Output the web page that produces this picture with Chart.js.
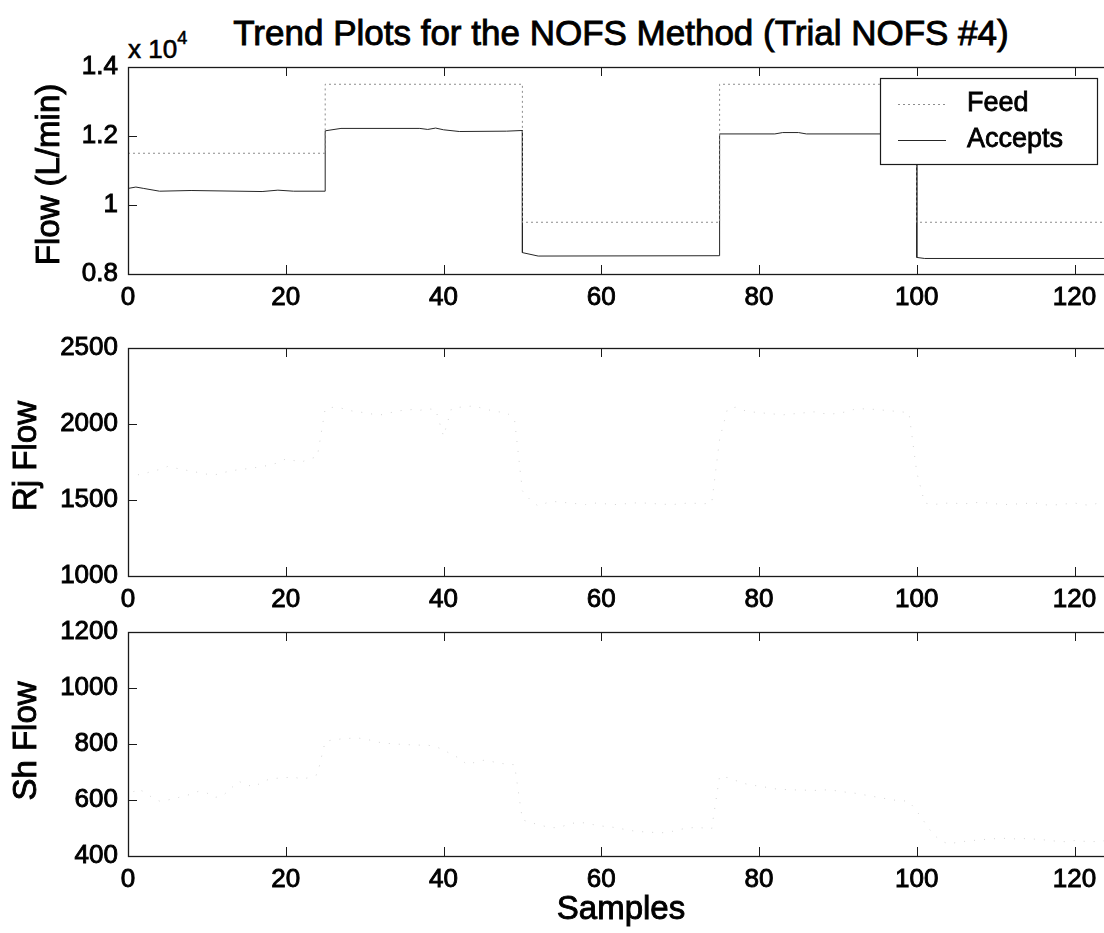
<!DOCTYPE html>
<html>
<head>
<meta charset="utf-8">
<script src="https://cdn.jsdelivr.net/npm/chart.js@4/dist/chart.umd.min.js"></script>
<style>
  html, body { margin: 0; padding: 0; background: #fff; overflow: hidden; }
  #wrap { position: relative; width: 1104px; height: 933px; overflow: hidden; background: #fff; }
  #wrap canvas { position: absolute; left: 0; }
  .txt { position: absolute; font-family: "Liberation Sans", Arial, sans-serif; color: #000; white-space: nowrap; -webkit-text-stroke: 0.9px #000; }
  #title { top: 13px; left: 621px; transform: translateX(-50%); font-size: 35px; line-height: 40px; }
  #mult { top: 27px; left: 128px; font-size: 26px; line-height: 30px; -webkit-text-stroke: 0.6px #000; }
  #mult sup { font-size: 18px; position: relative; top: -4px; }
</style>
</head>
<body>
<div id="wrap">
  <div class="txt" id="title">Trend Plots for the NOFS Method (Trial NOFS #4)</div>
  <div class="txt" id="mult">x 10<sup>4</sup></div>
  <canvas id="flowChart" width="1125" height="320" style="top:0px"></canvas>
  <canvas id="rjChart" width="1125" height="302" style="top:320px"></canvas>
  <canvas id="shChart" width="1125" height="333" style="top:600px"></canvas>
</div>
<script>
// ---- sample axis ----
const sampleTicks = [0, 20, 40, 60, 80, 100, 120];
const sampleMax = 125;

// ---- top panel: feed set-point and accepts flow (L/min) ----
const feedSamples = [0, 25, 25, 50, 50, 75, 75, 100, 100, 125];
const feedFlow    = [11500, 11500, 13500, 13500, 9500, 9500, 13500, 13500, 9500, 9500];

const acceptsSamples = [0, 1, 2, 4, 8, 17, 19, 21, 25, 25, 27, 37, 38, 39, 40, 42, 48, 50, 50, 52, 75, 75, 82, 83, 85, 86, 100, 100, 101, 125];
const acceptsFlow    = [10480, 10520, 10480, 10400, 10420, 10390, 10430, 10400, 10400, 12150, 12220, 12220, 12190, 12230, 12180, 12130, 12140, 12160, 8620, 8520, 8530, 12060, 12060, 12100, 12100, 12060, 12060, 8480, 8450, 8450];
const flowTicks = [8000, 10000, 12000, 14000];

// ---- middle panel: reject flow, one value per sample (0..125) ----
const rjFlow = [
  1660, 1665, 1670, 1690, 1700, 1720, 1710, 1700, 1690, 1680, 1670, 1665, 1680, 1690, 1700, 1705, 1712, 1720, 1730, 1745, 1770, 1760, 1750, 1770, 1785,
  2100, 2110, 2105, 2090, 2080, 2075, 2065, 2060, 2070, 2085, 2090, 2095, 2090, 2100, 2095, 1920, 2100, 2110, 2115, 2120, 2100, 2090, 2080, 2075, 2030,
  1560, 1500, 1460, 1480, 1490, 1485, 1480, 1475, 1470, 1480, 1478, 1472, 1470, 1475, 1480, 1482, 1478, 1475, 1472, 1470, 1475, 1480, 1478, 1475, 1480,
  1900, 2100, 2110, 2090, 2080, 2075, 2070, 2065, 2060, 2065, 2070, 2075, 2080, 2070, 2065, 2070, 2080, 2095, 2100, 2098, 2095, 2090, 2085, 2080, 2075,
  1680, 1480, 1470, 1475, 1480, 1478, 1475, 1480, 1485, 1480, 1475, 1470, 1472, 1475, 1478, 1480, 1470, 1465, 1470, 1475, 1480, 1470, 1465, 1480, 1475, 1470
];
const rjTicks = [1000, 1500, 2000, 2500];

// ---- bottom panel: shive flow, one value per sample (0..125) ----
const shFlow = [
  600, 641, 630, 610, 596, 600, 605, 615, 620, 632, 625, 609, 615, 640, 667, 655, 646, 665, 675, 678, 680, 682, 675, 680, 691,
  809, 815, 818, 820, 822, 818, 812, 805, 802, 800, 798, 797, 796, 796, 790, 780, 762, 750, 726, 735, 742, 738, 732, 728, 726,
  529, 520, 512, 505, 501, 505, 515, 520, 518, 512, 507, 505, 500, 495, 490, 487, 485, 484, 483, 488, 495, 500, 502, 500, 498,
  685, 680, 670, 660, 653, 650, 645, 640, 638, 636, 636, 635, 634, 636, 636, 632, 628, 625, 620, 615, 610, 605, 600, 598, 595,
  560, 520, 480, 455, 443, 448, 452, 455, 458, 460, 462, 463, 462, 460, 463, 460, 458, 455, 452, 451, 455, 453, 451, 452, 455, 452
];
const shTicks = [400, 600, 800, 1000, 1200];

// ---- shared styling ----
const FONT = '"Liberation Sans", Arial, sans-serif';
const TICK_FONT = { family: FONT, size: 26 };
const TICK_LEN = 9;

const pairs = (xs, ys) => ys.map((y, i) => ({ x: xs[i], y }));
const perSample = ys => ys.map((y, i) => ({ x: i, y }));

// Box frame with inward tick marks on all four sides
const boxFrame = {
  id: 'boxFrame',
  afterDatasetsDraw(chart) {
    const { ctx, chartArea: a, scales } = chart;
    ctx.save();
    ctx.strokeStyle = '#1a1a1a';
    ctx.lineWidth = 1.3;
    ctx.strokeRect(a.left + 0.5, a.top + 0.5, a.right - a.left, a.bottom - a.top);
    ctx.lineWidth = 1;
    ctx.beginPath();
    scales.x.ticks.forEach(t => {
      const px = Math.round(scales.x.getPixelForValue(t.value)) + 0.5;
      ctx.moveTo(px, a.bottom); ctx.lineTo(px, a.bottom - TICK_LEN);
      ctx.moveTo(px, a.top); ctx.lineTo(px, a.top + TICK_LEN);
    });
    scales.y.ticks.forEach(t => {
      const py = Math.round(scales.y.getPixelForValue(t.value)) + 0.5;
      ctx.moveTo(a.left, py); ctx.lineTo(a.left + TICK_LEN, py);
      ctx.moveTo(a.right, py); ctx.lineTo(a.right - TICK_LEN, py);
    });
    ctx.stroke();
    ctx.restore();
  }
};

// Axis labels, drawn with a slight outline for a heavier print look
const axisLabels = {
  id: 'axisLabels',
  afterDraw(chart, args, opts) {
    const { ctx, chartArea: a } = chart;
    ctx.save();
    ctx.fillStyle = '#000';
    ctx.strokeStyle = '#000';
    ctx.lineWidth = 0.9;
    ctx.textAlign = 'center';
    ctx.textBaseline = 'middle';
    ctx.font = opts.size + 'px ' + FONT;
    if (opts.y) {
      ctx.save();
      ctx.translate(opts.yX, (a.top + a.bottom) / 2 + (opts.yShift || 0));
      ctx.rotate(-Math.PI / 2);
      ctx.strokeText(opts.y, 0, 0);
      ctx.fillText(opts.y, 0, 0);
      ctx.restore();
    }
    if (opts.x) {
      const cx = (a.left + a.right) / 2;
      ctx.strokeText(opts.x, cx, opts.xY);
      ctx.fillText(opts.x, cx, opts.xY);
    }
    ctx.restore();
  }
};

// Boxed legend in the upper right of the top panel
const boxLegend = {
  id: 'boxLegend',
  afterDraw(chart, args, opts) {
    if (!opts.show) return;
    const { ctx } = chart;
    const x0 = opts.left, y0 = opts.top, w = opts.width, h = opts.height;
    ctx.save();
    ctx.fillStyle = '#fff';
    ctx.fillRect(x0, y0, w, h);
    ctx.strokeStyle = '#1a1a1a';
    ctx.lineWidth = 1.2;
    ctx.strokeRect(x0 + 0.5, y0 + 0.5, w, h);
    ctx.font = '27px ' + FONT;
    ctx.textBaseline = 'middle';
    chart.data.datasets.forEach((ds, i) => {
      const cy = y0 + opts.rowStart + i * opts.rowGap;
      ctx.strokeStyle = ds.borderColor;
      ctx.lineWidth = ds.borderWidth;
      ctx.setLineDash(ds.borderDash || []);
      ctx.beginPath();
      ctx.moveTo(x0 + 18, Math.round(cy) + 0.5);
      ctx.lineTo(x0 + 66, Math.round(cy) + 0.5);
      ctx.stroke();
      ctx.setLineDash([]);
      ctx.fillStyle = '#000';
      ctx.strokeStyle = '#000';
      ctx.lineWidth = 0.8;
      ctx.strokeText(ds.label, x0 + 87, cy);
      ctx.fillText(ds.label, x0 + 87, cy);
    });
    ctx.restore();
  }
};

function makePanel(id, datasets, yCfg, padTop, xHeight, labelOpts, legendOpts) {
  return new Chart(document.getElementById(id), {
    type: 'line',
    data: { datasets },
    options: {
      responsive: false,
      animation: false,
      events: [],
      layout: { padding: { top: padTop, left: 0, right: 11, bottom: 0 } },
      elements: { point: { radius: 0 }, line: { tension: 0 } },
      plugins: {
        legend: { display: false },
        tooltip: { enabled: false },
        boxLegend: legendOpts || { show: false },
        axisLabels: labelOpts
      },
      scales: {
        x: {
          type: 'linear',
          min: 0,
          max: sampleMax,
          grid: { display: false, drawTicks: false },
          border: { display: false },
          ticks: { font: TICK_FONT, color: '#000', padding: 8, maxRotation: 0, textStrokeColor: '#000', textStrokeWidth: 0.9 },
          afterBuildTicks: s => { s.ticks = sampleTicks.map(v => ({ value: v })); },
          afterFit: s => { s.height = xHeight; }
        },
        y: {
          type: 'linear',
          min: yCfg.min,
          max: yCfg.max,
          grid: { display: false, drawTicks: false },
          border: { display: false },
          ticks: { font: TICK_FONT, color: '#000', padding: 10, callback: yCfg.fmt || (v => v), textStrokeColor: '#000', textStrokeWidth: 0.9 },
          afterBuildTicks: s => { s.ticks = yCfg.ticks.map(v => ({ value: v })); },
          afterFit: s => { s.width = 128; }
        }
      }
    },
    plugins: [boxFrame, axisLabels, boxLegend]
  });
}

makePanel('flowChart', [
  { label: 'Feed', data: pairs(feedSamples, feedFlow), borderColor: '#8c8c8c', borderWidth: 1, borderDash: [2, 3] },
  { label: 'Accepts', data: pairs(acceptsSamples, acceptsFlow), borderColor: '#262626', borderWidth: 1 }
], { min: 8000, max: 14000, ticks: flowTicks, fmt: v => v / 10000 },
  67, 46, { size: 33, y: 'Flow (L/min)', yX: 50, yShift: 4 },
  { show: true, left: 880, top: 78, width: 217, height: 86, rowStart: 26, rowGap: 36 });

makePanel('rjChart', [
  { label: 'Rj Flow', data: perSample(rjFlow), borderColor: '#d2d2d2', borderWidth: 1, borderDash: [1, 9] }
], { min: 1000, max: 2500, ticks: rjTicks },
  28, 46, { size: 33, y: 'Rj Flow', yX: 27, yShift: -6 }, null);

makePanel('shChart', [
  { label: 'Sh Flow', data: perSample(shFlow), borderColor: '#d2d2d2', borderWidth: 1, borderDash: [1, 9] }
], { min: 400, max: 1200, ticks: shTicks },
  32, 77, { size: 33, y: 'Sh Flow', yX: 27, yShift: -3, x: 'Samples', xY: 310 }, null);
</script>
</body>
</html>
